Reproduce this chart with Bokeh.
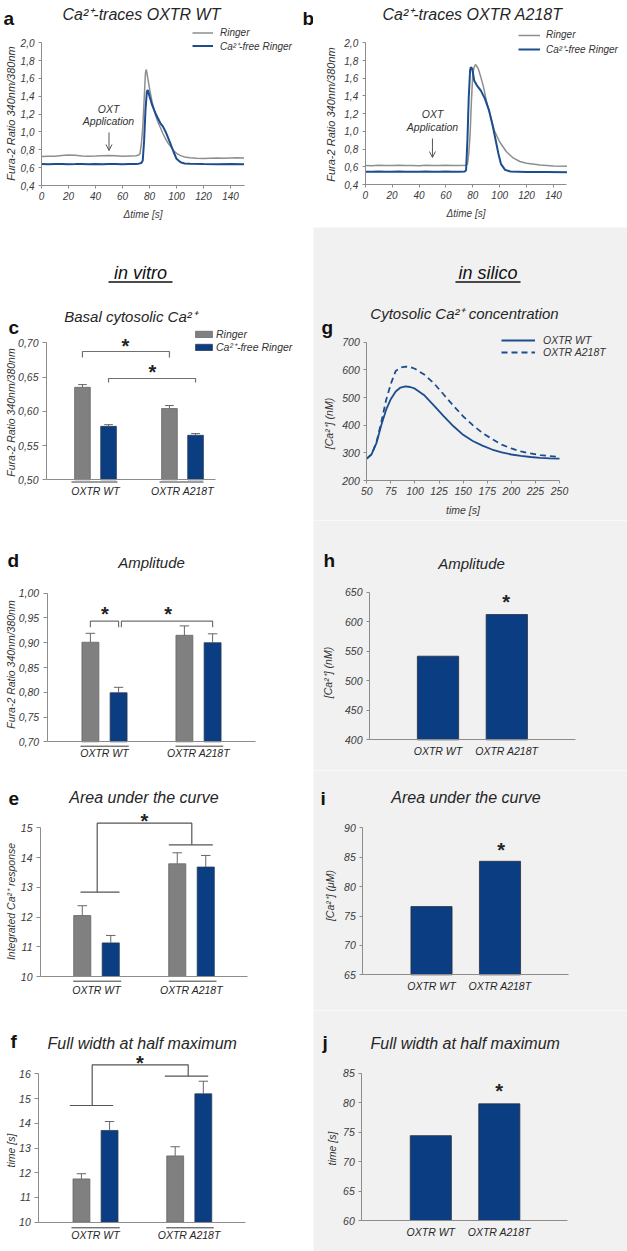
import math
from bokeh.plotting import figure
from bokeh.layouts import column, row
from bokeh.models import (Range1d, FixedTicker, CustomJSTickFormatter, Label, Arrow,
                          OpenHead, Legend, LegendItem)
from bokeh.embed import file_html
from bokeh.resources import INLINE

# ====================== DATA ======================
trace_xticks = [0, 20, 40, 60, 80, 100, 120, 140]
trace_yticks = [0.4, 0.6, 0.8, 1.0, 1.2, 1.4, 1.6, 1.8, 2.0]
trace_end = 150
oxt_time = 50

a_t_ringer = [0, 5, 10, 15, 20, 25, 30, 35, 40, 45, 50, 55, 60, 65, 70, 72, 73, 74, 75, 76, 77, 77.5,
              78, 79, 80, 82, 84, 86, 88, 90, 92, 94, 96, 98, 100, 103, 106, 110, 115, 120, 125, 130,
              135, 140, 145, 150]
a_v_ringer = [0.725, 0.727, 0.729, 0.736, 0.742, 0.738, 0.731, 0.728, 0.730, 0.733, 0.736, 0.734,
              0.729, 0.731, 0.733, 0.742, 0.76, 0.87, 1.05, 1.35, 1.66, 1.70, 1.67, 1.58, 1.49, 1.33,
              1.21, 1.12, 1.05, 0.98, 0.92, 0.87, 0.83, 0.79, 0.76, 0.735, 0.72, 0.71, 0.705, 0.704,
              0.706, 0.708, 0.706, 0.709, 0.711, 0.709]
a_t_free = [0, 5, 10, 15, 20, 25, 30, 35, 40, 45, 50, 55, 60, 65, 70, 72, 74, 75, 76, 77, 78, 78.5,
            79, 80, 82, 85, 88, 90, 92, 95, 98, 100, 103, 106, 110, 120, 130, 140, 150]
a_v_free = [0.642, 0.638, 0.640, 0.641, 0.639, 0.640, 0.642, 0.638, 0.640, 0.639, 0.641, 0.640,
            0.638, 0.640, 0.642, 0.645, 0.652, 0.68, 0.90, 1.24, 1.44, 1.47, 1.46, 1.40, 1.30, 1.19,
            1.10, 1.06, 1.00, 0.89, 0.77, 0.70, 0.66, 0.647, 0.643, 0.640, 0.638, 0.640, 0.637]

b_t_ringer = [0, 5, 10, 15, 20, 25, 30, 35, 40, 45, 50, 55, 60, 65, 70, 75, 76, 77, 78, 79, 80, 81,
              82, 84, 86, 88, 90, 93, 96, 100, 105, 110, 115, 120, 130, 140, 150]
b_v_ringer = [0.615, 0.613, 0.616, 0.614, 0.615, 0.617, 0.614, 0.615, 0.613, 0.616, 0.615, 0.614,
              0.616, 0.615, 0.614, 0.616, 0.63, 0.75, 0.97, 1.35, 1.65, 1.725, 1.755, 1.71, 1.61,
              1.50, 1.35, 1.18, 1.01, 0.88, 0.77, 0.70, 0.66, 0.64, 0.62, 0.61, 0.605]
b_t_free = [0, 5, 10, 15, 20, 25, 30, 35, 40, 45, 50, 55, 60, 65, 70, 74, 75, 76, 77, 78, 78.5, 79.5,
            80, 81, 83, 86, 89, 92, 95, 97, 99, 101, 104, 108, 120, 135, 150]
b_v_free = [0.545, 0.543, 0.546, 0.544, 0.545, 0.547, 0.544, 0.545, 0.543, 0.546, 0.545, 0.544,
            0.546, 0.545, 0.544, 0.547, 0.56, 0.90, 1.39, 1.69, 1.725, 1.71, 1.67, 1.575, 1.52, 1.46,
            1.37, 1.24, 1.05, 0.90, 0.75, 0.63, 0.565, 0.547, 0.542, 0.540, 0.537]

groups = ["OXTR WT", "OXTR A218T"]
series = ["Ringer", "Ca²⁺-free Ringer"]

basal_ringer = [0.635, 0.604]
basal_ringer_err = [0.004, 0.0044]
basal_free = [0.578, 0.565]
basal_free_err = [0.0025, 0.0025]
basal_yticks = [0.50, 0.55, 0.60, 0.65, 0.70]

amp_ringer = [0.901, 0.915]
amp_ringer_err = [0.018, 0.019]
amp_free = [0.799, 0.900]
amp_free_err = [0.011, 0.018]
amp_yticks = [0.70, 0.75, 0.80, 0.85, 0.90, 0.95, 1.00]

auc_ringer = [12.05, 13.79]
auc_ringer_err = [0.33, 0.37]
auc_free = [11.13, 13.68]
auc_free_err = [0.25, 0.39]
auc_yticks = [10, 11, 12, 13, 14, 15]

fwhm_ringer = [11.75, 12.68]
fwhm_ringer_err = [0.21, 0.37]
fwhm_free = [13.71, 15.19]
fwhm_free_err = [0.36, 0.51]
fwhm_yticks = [10, 11, 12, 13, 14, 15, 16]

sim_labels = ["OXTR WT", "OXTR A218T"]
sim_time = [50, 55, 60, 65, 70, 75, 80, 85, 90, 95, 100, 110, 120, 130, 140, 150, 160, 170, 180,
            190, 200, 210, 220, 230, 240, 250]
sim_wt = [279, 295, 335, 400, 455, 495, 522, 536, 540, 538, 532, 507, 470, 432, 396, 365, 343, 326,
          312, 302, 294, 289, 285, 282, 280, 279]
sim_a218t = [279, 295, 338, 410, 490, 550, 596, 608, 612, 610, 604, 582, 550, 510, 470, 432, 400,
             372, 350, 330, 316, 305, 298, 292, 288, 285]
sim_xticks = [50, 75, 100, 125, 150, 175, 200, 225, 250]
sim_yticks = [200, 300, 400, 500, 600, 700]

sim_amp = [541.6, 612.2]
sim_amp_yticks = [400, 450, 500, 550, 600, 650]
sim_auc = [76.6, 84.3]
sim_auc_yticks = [65, 70, 75, 80, 85, 90]
sim_fwhm = [74.4, 79.8]
sim_fwhm_yticks = [60, 65, 70, 75, 80, 85]

# ====================== STYLE ======================
FONT = "Liberation Sans"
LETTER_FONT = "Liberation Sans"
GRAY_BAR = "#808080"
BLUE_BAR = "#0a3d82"
LINE_BLUE = "#1d4d8e"
TRACE_GRAY = "#8e8e8e"
AXIS = "#8c8c8c"
ERR = "#666666"
BRACKET = "#707070"
PANEL_BG = "#f1f1f1"
TXT = "#262626"


def lin(p1, v1, p2, v2):
    k = (v2 - v1) / (p2 - p1)
    return lambda p: v1 + (p - p1) * k


def base(ox, oy, w, h, xcal, ycal, bg="white"):
    fx = lin(*xcal)
    fy = lin(*ycal)
    p = figure(width=w, height=h, x_range=Range1d(fx(ox), fx(ox + w)),
               y_range=Range1d(fy(oy + h), fy(oy)), output_backend="svg",
               toolbar_location=None, min_border=0, outline_line_color=None,
               background_fill_color=bg, border_fill_color=bg)
    p.title.visible = False
    p.xgrid.visible = False
    p.ygrid.visible = False
    return p, fx, fy


def setup_axes(p, x_at, y_at, xb, yb, xticks, yticks, ydig, size="10.5px",
               x_tick_out=0, x_standoff=5, y_tick_out=4, y_standoff=4,
               xlabels=None, xlabel=None, xlabel_standoff=5):
    xa, ya = p.xaxis[0], p.yaxis[0]
    xa.fixed_location = x_at
    ya.fixed_location = y_at
    xa.bounds = xb
    ya.bounds = yb
    xa.ticker = FixedTicker(ticks=xticks, minor_ticks=[])
    ya.ticker = FixedTicker(ticks=yticks, minor_ticks=[])
    ya.formatter = CustomJSTickFormatter(
        code="return tick.toFixed(%d).replace('.', ',');" % ydig)
    if xlabels is not None:
        xa.major_label_overrides = {i: s for i, s in enumerate(xlabels)}
    for ax in (xa, ya):
        ax.axis_line_color = AXIS
        ax.axis_line_width = 1
        ax.major_tick_line_color = AXIS
        ax.minor_tick_line_color = None
        ax.major_tick_in = 0
        ax.major_label_text_font = FONT
        ax.major_label_text_font_size = size
        ax.major_label_text_font_style = "italic"
        ax.major_label_text_color = "#3a3a3a"
    xa.major_tick_out = x_tick_out
    if x_tick_out == 0:
        xa.major_tick_line_color = None
    if xlabels is not None:
        xa.major_label_text_color = TXT
    ya.major_tick_out = y_tick_out
    xa.major_label_standoff = x_standoff
    ya.major_label_standoff = y_standoff
    if xlabel:
        xa.axis_label = xlabel
        xa.axis_label_standoff = xlabel_standoff
        xa.axis_label_text_font = FONT
        xa.axis_label_text_font_size = size
        xa.axis_label_text_font_style = "italic"
        xa.axis_label_text_color = "#3a3a3a"


def label(p, x, y, text, size="10.5px", style="italic", align="center",
          baseline="middle", angle=0.0, color=TXT, font=FONT):
    p.add_layout(Label(x=x, y=y, text=text, text_font=font, text_font_size=size,
                       text_font_style=style, text_align=align, text_baseline=baseline,
                       angle=angle, text_color=color))


def letter(p, fx, fy, px, py, ch):
    label(p, fx(px), fy(py), ch, size="19px", style="bold", align="left",
          baseline="alphabetic", color="#111111", font=LETTER_FONT)


def star(p, fx, fy, px, py):
    label(p, fx(px), fy(py + 5), "*", size="20px", style="bold", color="#222222")


def legend(p, items, x, y, gw, gh, rh, standoff, size, spacing):
    lg = Legend(items=[LegendItem(label=l, renderers=[r]) for l, r in items],
                location=(x, y), glyph_width=gw, glyph_height=gh, label_height=rh,
                label_width=10, label_standoff=standoff, spacing=spacing, padding=0, margin=0,
                border_line_color=None, background_fill_alpha=0,
                label_text_font=FONT, label_text_font_size=size,
                label_text_font_style="italic", label_text_color="#333333")
    p.add_layout(lg)


def vitro_bars(p, ringer, ringer_err, free, free_err, bottom, cap):
    xr = [i - 0.15 for i in range(len(groups))]
    xf = [i + 0.15 for i in range(len(groups))]
    rr = p.vbar(x=xr, top=ringer, bottom=bottom, width=0.18, fill_color=GRAY_BAR,
                line_color="#666666", line_width=0.8)
    rf = p.vbar(x=xf, top=free, bottom=bottom, width=0.18, fill_color=BLUE_BAR,
                line_color="#2c3c55", line_width=0.8)
    for xs, v, e in ((xr, ringer, ringer_err), (xf, free, free_err)):
        tops = [a + b for a, b in zip(v, e)]
        p.segment(x0=xs, y0=v, x1=xs, y1=tops, line_color=ERR, line_width=1)
        p.segment(x0=[x - cap for x in xs], y0=tops, x1=[x + cap for x in xs], y1=tops,
                  line_color=ERR, line_width=1)
    return xr, xf, rr, rf


def underlines(p, fx, fy, py, spans, color="#3a3a3a", width=1):
    p.segment(x0=[fx(a) for a, b in spans], y0=[fy(py)] * len(spans),
              x1=[fx(b) for a, b in spans], y1=[fy(py)] * len(spans),
              line_color=color, line_width=width)


def sim_bars(p, vals, bottom):
    p.vbar(x=list(range(len(sim_labels))), top=vals, bottom=bottom, width=0.6,
           fill_color=BLUE_BAR, line_color="#2a2f3a", line_width=0.8)


ylab_vitro = "Fura-2 Ratio 340nm/380nm"
LW, RW = 313, 314

# ====================== ROW 1: traces ======================
pa, fx, fy = base(0, 0, LW, 227, (41, 0, 230, 140), (42.3, 2.0, 185, 0.4))
ra1 = pa.line(a_t_ringer, a_v_ringer, line_color=TRACE_GRAY, line_width=1.5)
ra2 = pa.line(a_t_free, a_v_free, line_color=LINE_BLUE, line_width=2)
setup_axes(pa, trace_yticks[0], trace_xticks[0], (trace_xticks[0], trace_end),
           (trace_yticks[0], trace_yticks[-1]), trace_xticks, trace_yticks, 1, size="10px",
           x_tick_out=3, x_standoff=3, y_tick_out=3, y_standoff=4,
           xlabel="Δtime [s]", xlabel_standoff=6)
legend(pa, [("Ringer", ra1), (series[1], ra2)], 192, 174.5, 21, 13, 13, 7, "10px", -2)
letter(pa, fx, fy, 3, 18, "a")
letter(pa, fx, fy, 302, 18, "b")
label(pa, fx(141), fy(14), "Ca²⁺-traces OXTR WT", size="16px")
label(pa, fx(10.5), fy(113), ylab_vitro, size="11px", angle=math.pi / 2, color="#333333")
label(pa, fx(108), fy(108), "OXT", size="10.5px", color="#333333")
label(pa, fx(108), fy(120), "Application", size="10.5px", color="#333333")
pa.add_layout(Arrow(end=OpenHead(size=6, line_color="#555555", line_width=1),
                    x_start=oxt_time, y_start=fy(132), x_end=oxt_time, y_end=fy(150),
                    line_color="#555555", line_width=1))

pb, fx, fy = base(313, 0, RW, 227, (364.7, 0, 553, 140), (42.3, 2.0, 184, 0.4))
rb1 = pb.line(b_t_ringer, b_v_ringer, line_color=TRACE_GRAY, line_width=1.5)
rb2 = pb.line(b_t_free, b_v_free, line_color=LINE_BLUE, line_width=2)
setup_axes(pb, trace_yticks[0], trace_xticks[0], (trace_xticks[0], trace_end),
           (trace_yticks[0], trace_yticks[-1]), trace_xticks, trace_yticks, 1, size="10px",
           x_tick_out=3, x_standoff=3, y_tick_out=3, y_standoff=4,
           xlabel="Δtime [s]", xlabel_standoff=6)
legend(pb, [("Ringer", rb1), (series[1], rb2)], 205, 171.2, 22, 14, 14, 6, "10px", -1)
label(pb, fx(472), fy(14), "Ca²⁺-traces OXTR A218T", size="16px")
label(pb, fx(330), fy(114), ylab_vitro, size="11px", angle=math.pi / 2, color="#333333")
label(pb, fx(432), fy(113), "OXT", size="10.5px", color="#333333")
label(pb, fx(432), fy(126), "Application", size="10.5px", color="#333333")
pb.add_layout(Arrow(end=OpenHead(size=6, line_color="#555555", line_width=1),
                    x_start=oxt_time, y_start=fy(138), x_end=oxt_time, y_end=fy(157),
                    line_color="#555555", line_width=1))

# ====================== ROW 2: c / g ======================
pc, fx, fy = base(0, 227, LW, 293, (95, 0, 182, 1), (342.3, 0.70, 479.3, 0.50))
xr, xf, rr, rf = vitro_bars(pc, basal_ringer, basal_ringer_err, basal_free, basal_free_err,
                            basal_yticks[0], 0.05)
setup_axes(pc, basal_yticks[0], fx(46), (fx(46), fx(215)), (basal_yticks[0], basal_yticks[-1]),
           [0, 1], basal_yticks, 2, xlabels=groups, x_standoff=5)
underlines(pc, fx, fy, 481.5, [(71, 117), (159, 203)])
pc.multi_line(xs=[[xr[0], xr[0], xr[1], xr[1]], [xf[0], xf[0], xf[1], xf[1]]],
              ys=[[fy(357), fy(351), fy(351), fy(357)], [fy(382), fy(378), fy(378), fy(382)]],
              line_color=BRACKET, line_width=1.2)
star(pc, fx, fy, 125, 340)
star(pc, fx, fy, 152, 366)
legend(pc, [(series[0], rr), (series[1], rf)], 193, 166, 21, 8, 13, 2, "10.5px", -2)
label(pc, fx(140), fy(272), "in vitro", size="18px", color="#111111", baseline="alphabetic")
underlines(pc, fx, fy, 281.5, [(108, 172)], color="#111111", width=1.3)
letter(pc, fx, fy, 8, 327, "c")
label(pc, fx(130), fy(316), "Basal cytosolic Ca²⁺", size="15px")
label(pc, fx(10.5), fy(412), ylab_vitro, size="10.5px", angle=math.pi / 2, color="#333333")

pg, fx, fy = base(313, 227, RW, 293, (366.3, 50, 559, 250), (341.7, 700, 480, 200), PANEL_BG)
rg1 = pg.line(sim_time, sim_wt, line_color=LINE_BLUE, line_width=1.8)
rg2 = pg.line(sim_time, sim_a218t, line_color=LINE_BLUE, line_width=1.8, line_dash="6 4")
setup_axes(pg, sim_yticks[0], sim_xticks[0], (sim_xticks[0], sim_xticks[-1]),
           (sim_yticks[0], sim_yticks[-1]), sim_xticks, sim_yticks, 0,
           x_tick_out=3, x_standoff=3, y_tick_out=3, y_standoff=4,
           xlabel="time [s]", xlabel_standoff=6)
legend(pg, [(sim_labels[0], rg1), (sim_labels[1], rg2)], 188, 162.5, 34, 12, 12, 8, "10.5px", -3)
label(pg, fx(487.5), fy(272), "in silico", size="18px", color="#111111", baseline="alphabetic")
underlines(pg, fx, fy, 281.5, [(455, 520)], color="#111111", width=1.3)
letter(pg, fx, fy, 321, 327, "g")
label(pg, fx(464), fy(313), "Cytosolic Ca²⁺ concentration", size="15px")
label(pg, fx(328), fy(423), "[Ca²⁺] (nM)", size="10.5px", angle=math.pi / 2, color="#333333")

# ====================== ROW 3: d / h ======================
pd, fx, fy = base(0, 520, LW, 250, (104, 0, 198, 1), (592.7, 1.00, 741.3, 0.70))
xr, xf, rr, rf = vitro_bars(pd, amp_ringer, amp_ringer_err, amp_free, amp_free_err,
                            amp_yticks[0], 0.05)
setup_axes(pd, amp_yticks[0], fx(46.7), (fx(46.7), fx(255)), (amp_yticks[0], amp_yticks[-1]),
           [0, 1], amp_yticks, 2, xlabels=groups, x_standoff=5)
underlines(pd, fx, fy, 745.7, [(80, 128.3), (175, 222.7)])
pd.multi_line(xs=[[xr[0], xr[0], xf[0], xf[0]], [xf[0] + 0.03, xf[0] + 0.03, xf[1], xf[1]]],
              ys=[[fy(626.7), fy(620.7), fy(620.7), fy(626.7)],
                  [fy(626.7), fy(620.7), fy(620.7), fy(626.7)]],
              line_color=BRACKET, line_width=1.2)
star(pd, fx, fy, 104.3, 608.3)
star(pd, fx, fy, 167.7, 608.3)
letter(pd, fx, fy, 7, 560, "d")
label(pd, fx(151), fy(562), "Amplitude", size="15px")
label(pd, fx(10.5), fy(664), ylab_vitro, size="10.5px", angle=math.pi / 2, color="#333333")

ph, fx, fy = base(313, 520, RW, 250, (437.5, 0, 506.3, 1), (591.7, 650, 739.3, 400), PANEL_BG)
sim_bars(ph, sim_amp, sim_amp_yticks[0])
setup_axes(ph, sim_amp_yticks[0], fx(369), (fx(369), fx(574.7)),
           (sim_amp_yticks[0], sim_amp_yticks[-1]), [0, 1], sim_amp_yticks, 0,
           xlabels=sim_labels, x_standoff=5, y_tick_out=3)
star(ph, fx, fy, 505.7, 596.7)
letter(ph, fx, fy, 323, 560, "h")
label(ph, fx(471), fy(562.7), "Amplitude", size="15px")
label(ph, fx(327), fy(672), "[Ca²⁺] (nM)", size="10.5px", angle=math.pi / 2, color="#333333")

# ====================== ROW 4: e / i ======================
pe, fx, fy = base(0, 770, LW, 240, (96, 0, 191, 1), (827.3, 15, 976, 10))
xr, xf, rr, rf = vitro_bars(pe, auc_ringer, auc_ringer_err, auc_free, auc_free_err,
                            auc_yticks[0], 0.05)
setup_axes(pe, auc_yticks[0], fx(40), (fx(40), fx(247.3)), (auc_yticks[0], auc_yticks[-1]),
           [0, 1], auc_yticks, 0, xlabels=groups, x_standoff=7)
underlines(pe, fx, fy, 980.7, [(72.7, 120.7), (168.3, 216)])
pe.multi_line(xs=[[fx(80), fx(119)], [fx(96.7), fx(96.7), fx(191.3), fx(191.3)],
                  [fx(168.3), fx(212.3)]],
              ys=[[fy(891.7), fy(891.7)], [fy(891.7), fy(822.7), fy(822.7), fy(844.3)],
                  [fy(844.3), fy(844.3)]],
              line_color="#555555", line_width=1.2)
star(pe, fx, fy, 144, 815)
letter(pe, fx, fy, 8, 798, "e")
label(pe, fx(143.5), fy(797), "Area under the curve", size="16px")
label(pe, fx(10.5), fy(901), "Integrated Ca²⁺ response", size="10.5px", angle=math.pi / 2,
      color="#333333")

pi_, fx, fy = base(313, 770, RW, 240, (431, 0, 499.5, 1), (827.3, 90, 974.3, 65), PANEL_BG)
sim_bars(pi_, sim_auc, sim_auc_yticks[0])
setup_axes(pi_, sim_auc_yticks[0], fx(362.3), (fx(362.3), fx(568)),
           (sim_auc_yticks[0], sim_auc_yticks[-1]), [0, 1], sim_auc_yticks, 0,
           xlabels=sim_labels, x_standoff=5, y_tick_out=3)
star(pi_, fx, fy, 500.7, 844)
letter(pi_, fx, fy, 320, 798, "i")
label(pi_, fx(465.5), fy(797), "Area under the curve", size="16px")
label(pi_, fx(329), fy(895), "[Ca²⁺] (μM)", size="10.5px", angle=math.pi / 2, color="#333333")

# ====================== ROW 5: f / j ======================
pf, fx, fy = base(0, 1010, LW, 241, (95, 0, 188.75, 1), (1073.3, 16, 1221.7, 10))
xr, xf, rr, rf = vitro_bars(pf, fwhm_ringer, fwhm_ringer_err, fwhm_free, fwhm_free_err,
                            fwhm_yticks[0], 0.05)
setup_axes(pf, fwhm_yticks[0], fx(38.3), (fx(38.3), fx(245)), (fwhm_yticks[0], fwhm_yticks[-1]),
           [0, 1], fwhm_yticks, 0, xlabels=groups, x_standoff=7)
underlines(pf, fx, fy, 1227.3, [(71, 119.3), (165.7, 213.3)])
pf.multi_line(xs=[[fx(69.3), fx(112.7)], [fx(91.7), fx(91.7), fx(187.7), fx(187.7)],
                  [fx(164.3), fx(207.7)]],
              ys=[[fy(1105), fy(1105)], [fy(1105), fy(1064.3), fy(1064.3), fy(1075.7)],
                  [fy(1075.7), fy(1075.7)]],
              line_color="#555555", line_width=1.2)
star(pf, fx, fy, 139.3, 1057.3)
letter(pf, fx, fy, 10, 1041, "f")
label(pf, fx(141.7), fy(1042.7), "Full width at half maximum", size="16px")
label(pf, fx(10.5), fy(1150), "time [s]", size="10.5px", angle=math.pi / 2, color="#333333")

pj, fx, fy = base(313, 1010, RW, 241, (430.3, 0, 498.8, 1), (1072.7, 85, 1220, 60), PANEL_BG)
sim_bars(pj, sim_fwhm, sim_fwhm_yticks[0])
setup_axes(pj, sim_fwhm_yticks[0], fx(361.3), (fx(361.3), fx(567)),
           (sim_fwhm_yticks[0], sim_fwhm_yticks[-1]), [0, 1], sim_fwhm_yticks, 0,
           xlabels=sim_labels, x_standoff=5, y_tick_out=3)
star(pj, fx, fy, 498.7, 1085.7)
letter(pj, fx, fy, 322, 1042, "j")
label(pj, fx(464.7), fy(1042.7), "Full width at half maximum", size="16px")
label(pj, fx(331), fy(1148), "time [s]", size="10.5px", angle=math.pi / 2, color="#333333")

layout = column(row(pa, pb), row(pc, pg), row(pd, ph), row(pe, pi_), row(pf, pj))

open("out.html", "w").write(file_html(layout, INLINE))
